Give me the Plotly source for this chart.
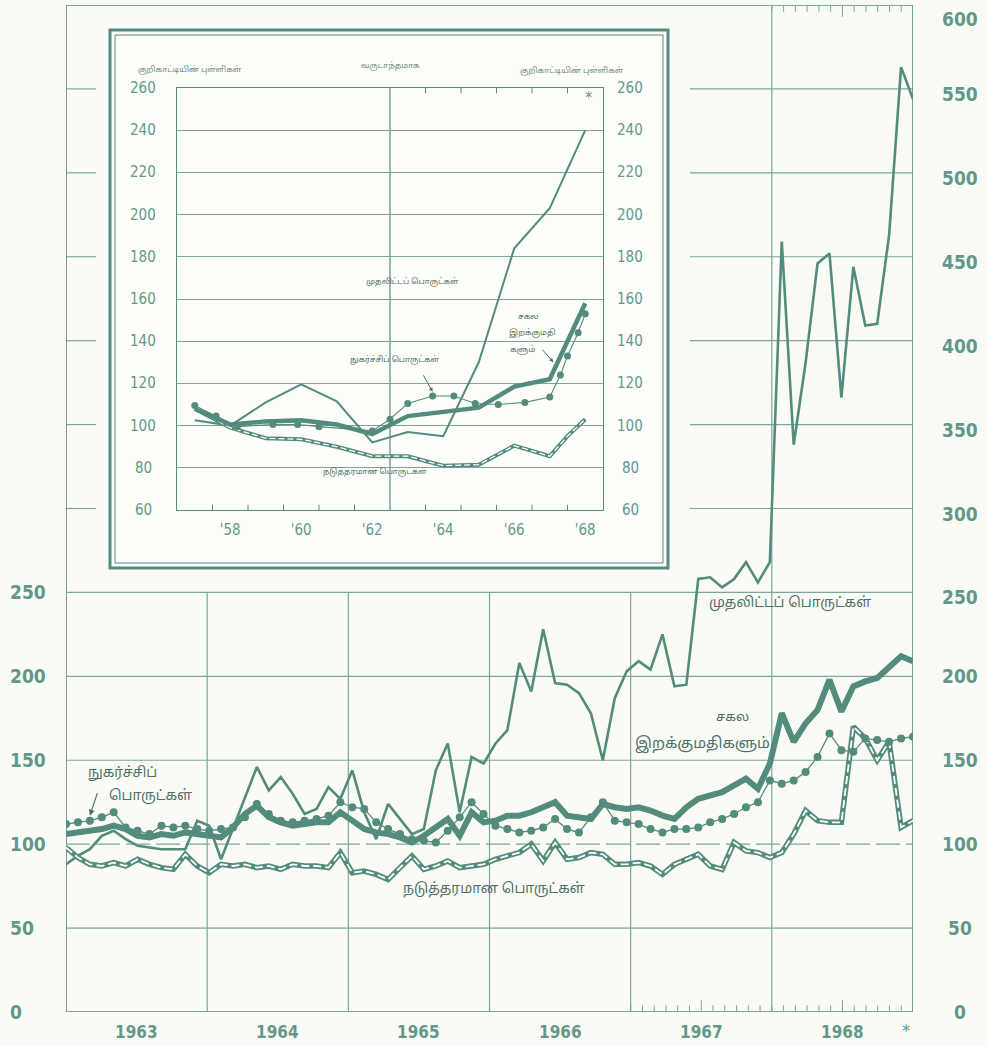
import plotly.graph_objects as go

# ---- main chart: monthly index values, Jan 1963 .. Dec 1968 ----
capital = [88, 93, 97, 105, 108, 103, 99, 98, 97, 97, 97, 114,
           111, 91, 109, 128, 146, 132, 140, 130, 118, 121, 134, 127,
           144, 119, 103, 124, 115, 106, 109, 144, 160, 119, 152, 148,
           160, 168, 208, 191, 228, 196, 195, 190, 178, 150, 187, 203,
           209, 204, 225, 194, 195, 258, 259, 253, 258, 268, 256, 268,
           459, 338, 387, 446, 452, 366, 444, 409, 410, 463, 563, 544]
total = [106, 107, 108, 109, 111, 109, 105, 104, 106, 105, 107, 106,
         105, 104, 110, 118, 123, 116, 113, 111, 112, 113, 113, 119,
         114, 109, 107, 106, 104, 101, 105, 110, 115, 105, 119, 113,
         114, 117, 117, 119, 122, 125, 117, 116, 115, 124, 122, 121,
         122, 120, 117, 115, 122, 127, 129, 131, 135, 139, 133, 148,
         178, 161, 172, 180, 198, 179, 194, 197, 199, 205, 212, 209]
consumer = [112, 113, 114, 116, 119, 110, 108, 106, 111, 110, 111, 109,
            108, 109, 110, 116, 124, 118, 114, 113, 114, 115, 117, 125,
            122, 121, 113, 109, 106, 103, 102, 101, 108, 116, 125, 118,
            111, 109, 107, 108, 110, 115, 109, 107, 116, 125, 114, 113,
            112, 109, 107, 109, 109, 110, 113, 115, 118, 122, 125, 138,
            136, 138, 143, 152, 166, 156, 155, 163, 162, 161, 163, 164]
intermediate = [98, 92, 88, 87, 89, 87, 91, 88, 86, 85, 94, 87,
                83, 88, 87, 88, 86, 87, 85, 88, 87, 87, 86, 95,
                83, 84, 82, 79, 86, 93, 85, 87, 90, 86, 87, 88,
                91, 93, 95, 100, 90, 101, 91, 92, 95, 94, 88, 88,
                89, 87, 82, 88, 91, 94, 87, 85, 101, 96, 95, 92,
                95, 106, 120, 114, 113, 113, 170, 163, 150, 161, 110, 114]
months = list(range(len(total)))

year_labels = ["1963", "1964", "1965", "1966", "1967", "1968"]
left_ticks = [0, 50, 100, 150, 200, 250]
right_ticks = [0, 50, 100, 150, 200, 250, 300, 350, 400, 450, 500, 550, 600]

# ---- inset: annual values 1957 .. 1968 ----
inset_years = [1957.5, 1958.5, 1959.5, 1960.5, 1961.5, 1962.5,
               1963.5, 1964.5, 1965.5, 1966.5, 1967.5, 1968.5]
inset_capital = [102.5, 100, 111, 119.5, 111.5, 92, 97, 95, 130, 184, 203, 240]
inset_total = [108, 100.5, 102, 102.5, 100.5, 96, 104.5, 106.5, 108.5, 118.5, 122, 158]
inset_inter_years = [1957.5, 1958.5, 1959.5, 1960.5, 1961.5, 1962.5,
                     1963.5, 1964.5, 1965.5, 1966.5, 1967.5, 1968.0, 1968.5]
inset_intermediate = [108, 99, 94, 93.5, 90, 85.5, 85.5, 81, 81.5, 90.5, 85.5, 95, 103]
inset_cons_years = [1957.5, 1958.1, 1958.7, 1959.7, 1960.4, 1961.0, 1962.5, 1963.0,
                    1963.5, 1964.2, 1964.8, 1965.4, 1966.05, 1966.8, 1967.5,
                    1967.8, 1968.0, 1968.3, 1968.5]
inset_consumer = [109.5, 104.5, 99.5, 100.5, 100.5, 99.5, 97.5, 103, 110.5, 114,
                  114, 110.5, 110, 111, 113.5, 124, 133, 144, 153]
inset_ticks = [60, 80, 100, 120, 140, 160, 180, 200, 220, 240, 260]
inset_xlabels = ["'58", "'60", "'62", "'64", "'66", "'68"]

LINE = "#538c7c"
GRID = "#7aa79a"
NUM = "#62988b"
TXT = "#50706a"
BG = "#fbfbf6"
NUMFONT = "DejaVu Sans Condensed, Liberation Sans Narrow, sans-serif"
TAMIL = "Noto Sans Tamil, Lohit Tamil, Noto Sans, sans-serif"


def px_x(p):
    return (p - 66) / 847


def px_y(p):
    return (1012 - p) / 1007


fig = go.Figure()

# main series
fig.add_trace(go.Scatter(x=months, y=capital, mode="lines",
                         line=dict(color=LINE, width=2.6)))
fig.add_trace(go.Scatter(x=months, y=intermediate, mode="lines",
                         line=dict(color=LINE, width=5.5)))
fig.add_trace(go.Scatter(x=months, y=intermediate, mode="lines",
                         line=dict(color="white", width=1.8, dash="8px,4px")))
fig.add_trace(go.Scatter(x=months, y=total, mode="lines",
                         line=dict(color=LINE, width=6)))
fig.add_trace(go.Scatter(x=months, y=consumer, mode="lines+markers",
                         line=dict(color=LINE, width=1.3),
                         marker=dict(color=LINE, size=8)))

# inset series
fig.add_trace(go.Scatter(x=inset_years, y=inset_capital, mode="lines",
                         line=dict(color=LINE, width=2), xaxis="x2", yaxis="y2"))
fig.add_trace(go.Scatter(x=inset_inter_years, y=inset_intermediate, mode="lines",
                         line=dict(color=LINE, width=4), xaxis="x2", yaxis="y2"))
fig.add_trace(go.Scatter(x=inset_inter_years, y=inset_intermediate, mode="lines",
                         line=dict(color="white", width=1.3, dash="6px,3px"),
                         xaxis="x2", yaxis="y2"))
fig.add_trace(go.Scatter(x=inset_years, y=inset_total, mode="lines",
                         line=dict(color=LINE, width=4.5), xaxis="x2", yaxis="y2"))
fig.add_trace(go.Scatter(x=inset_cons_years, y=inset_consumer, mode="lines+markers",
                         line=dict(color=LINE, width=1.1),
                         marker=dict(color=LINE, size=7), xaxis="x2", yaxis="y2"))

shapes = []
xmax = 71
year_w = xmax / 6


def seg(x0, y0, x1, y1, xref="x", yref="y", width=1.2, dash="solid", color=GRID):
    shapes.append(dict(type="line", x0=x0, y0=y0, x1=x1, y1=y1, xref=xref, yref=yref,
                       line=dict(color=color, width=width, dash=dash), layer="below"))


# frame of main chart
seg(0, 0, 0, 600, width=1.6, color=LINE)
seg(xmax, 0, xmax, 600, width=1.6, color=LINE)
seg(0, 0, xmax, 0, width=1.6, color=LINE)
seg(0, 600, xmax, 600, width=1.6, color=LINE)

# horizontal grid
for v in [50, 150, 200, 250]:
    seg(0, v, xmax, v)
seg(0, 100, xmax, 100, dash="24px,6px")
for v in [300, 350, 400, 450, 500, 550]:
    seg(px_x(66), v, px_x(96), v, xref="paper")
    seg(px_x(690), v, px_x(913), v, xref="paper")

# vertical grid at year boundaries
for k in range(1, 5):
    seg(k * year_w, 0, k * year_w, 250)
seg(5 * year_w, 0, 5 * year_w, 600)

# monthly ticks
for m in range(48, 73):
    h = 7 if m % 12 == 6 else 4
    seg(m * xmax / 72, 0, m * xmax / 72, h, width=1)
for m in range(60, 73):
    h = 7 if m % 12 == 6 else 4
    seg(m * xmax / 72, 600, m * xmax / 72, 600 - h, width=1)

# inset box
shapes.append(dict(type="rect", xref="paper", yref="paper",
                   x0=px_x(110), x1=px_x(668), y0=px_y(568), y1=px_y(30),
                   fillcolor="#fdfdfa", line=dict(color=LINE, width=3), layer="below"))
shapes.append(dict(type="rect", xref="paper", yref="paper",
                   x0=px_x(115), x1=px_x(663), y0=px_y(563), y1=px_y(35),
                   line=dict(color=LINE, width=1), layer="below"))

# inset ticks and centre line
seg(1963, 60, 1963, 260, xref="x2", yref="y2", width=1.2, color=LINE)
for yr in range(1958, 1969):
    if yr != 1963:
        seg(yr, 60, yr, 62.5, xref="x2", yref="y2", width=1, color=LINE)
for yr in range(1964, 1969):
    seg(yr, 260, yr, 257.5, xref="x2", yref="y2", width=1, color=LINE)

ann = []


def label(text, x, y, size=14, color=TXT, family=TAMIL, xref="paper", yref="paper",
          xanchor="center", weight="normal", yshift=0):
    ann.append(dict(text=text, x=x, y=y, xref=xref, yref=yref, showarrow=False,
                    xanchor=xanchor, yanchor="middle", yshift=yshift,
                    font=dict(family=family, size=size, color=color, weight=weight)))


for v in left_ticks:
    label(str(v), px_x(8), v, size=19, color=NUM, family=NUMFONT, yref="y",
          xanchor="left", weight="bold")
for v in right_ticks:
    shift = -14 if v == 600 else (-5 if v >= 250 else 0)
    label(str(v), px_x(960), v, size=19, color=NUM, family=NUMFONT, yref="y",
          weight="bold", yshift=shift)
for k, t in enumerate(year_labels):
    label(t, (k + 0.5) * year_w, px_y(1032), size=17, color=NUM, family=NUMFONT,
          xref="x", weight="bold")
label("*", px_x(906), px_y(1030), size=18, color=NUM, family=NUMFONT)

for v in inset_ticks:
    label(str(v), px_x(143), v, size=15, color=NUM, family=NUMFONT, yref="y2")
    label(str(v), px_x(630), v, size=15, color=NUM, family=NUMFONT, yref="y2")

# main chart texts
label("நுகர்ச்சிப்", px_x(122), px_y(773), size=14)
label("பொருட்கள்", px_x(150), px_y(796), size=14)
label("முதலிட்டப் பொருட்கள்", px_x(790), px_y(603), size=14)
label("சகல", px_x(732), px_y(718), size=13)
label("இறக்குமதிகளும்", px_x(702), px_y(744), size=15)
label("நடுத்தரமான பொருட்கள்", px_x(494), px_y(889), size=14)

# inset texts
label("குறிகாட்டியின் புள்ளிகள்", px_x(190), px_y(70), size=8, color="#6f8a83")
label("வருடாந்தமாக", px_x(390), px_y(66), size=8, color="#6f8a83")
label("குறிகாட்டியின் புள்ளிகள்", px_x(572), px_y(71), size=8, color="#6f8a83")
label("முதலிட்டப் பொருட்கள்", px_x(412), px_y(282), size=8)
label("நுகர்ச்சிப் பொருட்கள்", px_x(395), px_y(360), size=8)
label("சகல", px_x(528), px_y(317), size=8)
label("இறக்குமதி", px_x(532), px_y(333), size=8)
label("களும்", px_x(522), px_y(350), size=8)
label("நடுத்தரமான பொருட்கள்", px_x(375), px_y(472), size=8)
label("*", px_x(588), px_y(98), size=16, color=NUM, family=NUMFONT)

# arrows
ann.append(dict(x=2, y=117, xref="x", yref="y", ax=8, ay=-24, text="",
                showarrow=True, arrowhead=2, arrowsize=1, arrowwidth=1.2, arrowcolor=TXT))
ann.append(dict(x=1964.2, y=116, xref="x2", yref="y2", ax=-10, ay=-18, text="",
                showarrow=True, arrowhead=2, arrowsize=0.8, arrowwidth=1, arrowcolor=TXT))
ann.append(dict(x=1967.6, y=130, xref="x2", yref="y2", ax=-12, ay=-14, text="",
                showarrow=True, arrowhead=2, arrowsize=0.8, arrowwidth=1, arrowcolor=TXT))

fig.update_layout(
    width=988, height=1046,
    margin=dict(l=66, r=75, t=5, b=34),
    paper_bgcolor=BG, plot_bgcolor="rgba(0,0,0,0)",
    showlegend=False,
    xaxis=dict(range=[0, xmax], visible=False, domain=[0, 1]),
    yaxis=dict(range=[0, 600], visible=False, domain=[0, 1]),
    xaxis2=dict(domain=[px_x(177), px_x(603)], range=[1957, 1969], anchor="y2",
                showgrid=False, zeroline=False, showline=True, mirror=True,
                linecolor=LINE, linewidth=1.4,
                tickvals=[1958.5, 1960.5, 1962.5, 1964.5, 1966.5, 1968.5],
                ticktext=inset_xlabels, ticks="outside", ticklen=6,
                tickcolor="rgba(0,0,0,0)",
                tickfont=dict(family=NUMFONT, size=15, color=NUM)),
    yaxis2=dict(domain=[px_y(510), px_y(88)], range=[60, 260], anchor="x2",
                showgrid=True, gridcolor=GRID, gridwidth=1, zeroline=False,
                showline=True, mirror=True, linecolor=LINE, linewidth=1.4,
                tickvals=inset_ticks, showticklabels=False),
    shapes=shapes,
    annotations=ann,
)

fig.write_html("out.html", config={"displayModeBar": False},
               post_script="document.body.style.margin='0px';"
                           "document.body.style.background='" + BG + "';")
